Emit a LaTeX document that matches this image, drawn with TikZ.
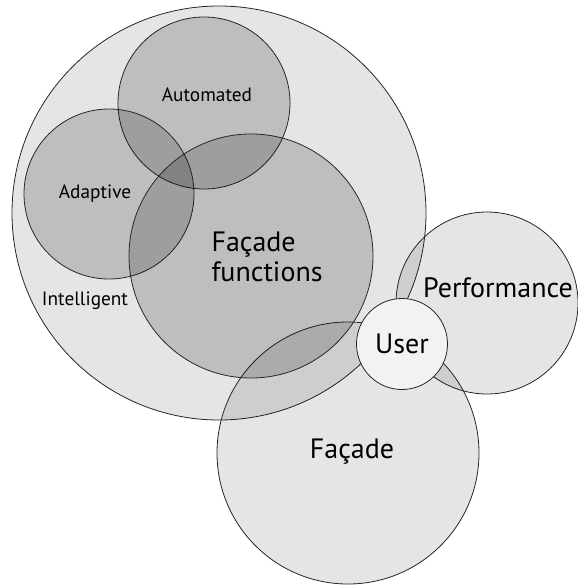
\documentclass[tikz,border=0pt]{standalone}
\usepackage{fontspec}
\setmainfont{PT Sans}
\usetikzlibrary{positioning}
\tikzset{>=latex}

\begin{document}
\begin{tikzpicture}[x=1pt,y=-1pt,
		set/.style = {circle, draw=black!85, line width=0.8pt, fill=black, inner sep=0pt},
		outerset/.style = {set, fill opacity=0.1},
		innerset/.style = {set, fill opacity=0.17},
		small/.style = {font=\fontsize{19.3}{21}\selectfont},
		big/.style = {font=\fontsize{28}{30}\selectfont},
	]
	\useasboundingbox (0,0) rectangle (577,585);
	% outer sets
	\node[outerset, minimum size=414pt] (intel) at (219,213) {};
	\node[outerset, minimum size=182pt] (perf) at (487,303) {};
	\node[outerset, minimum size=262pt] (fac) at (348,453) {};
	% sets inside the intelligent facade
	\node[innerset, minimum size=172pt] (auto) at (204,103) {};
	\node[innerset, minimum size=170pt] (adapt) at (109,194) {};
	\node[innerset, minimum size=244pt] (func) at (251,256) {};
	% user on top
	\node[set, fill=gray!10, minimum size=91pt] (user) at (402,344) {};
	% labels
	\node[small] (autolbl) at (207,95) {Automated};
	\node[small] (adaptlbl) at (95,194) {Adaptive};
	\node[small] (intellbl) at (85,301) {Intelligent};
	\node[big, align=left, anchor=west] (funclbl) at (208,257) {Façade\\functions};
	\node[big] (perflbl) at (498,288) {Performance};
	\node[big] (userlbl) at (user) {User};
	\node[big] (faclbl) at (352,452) {Façade};
\end{tikzpicture}
\end{document}
